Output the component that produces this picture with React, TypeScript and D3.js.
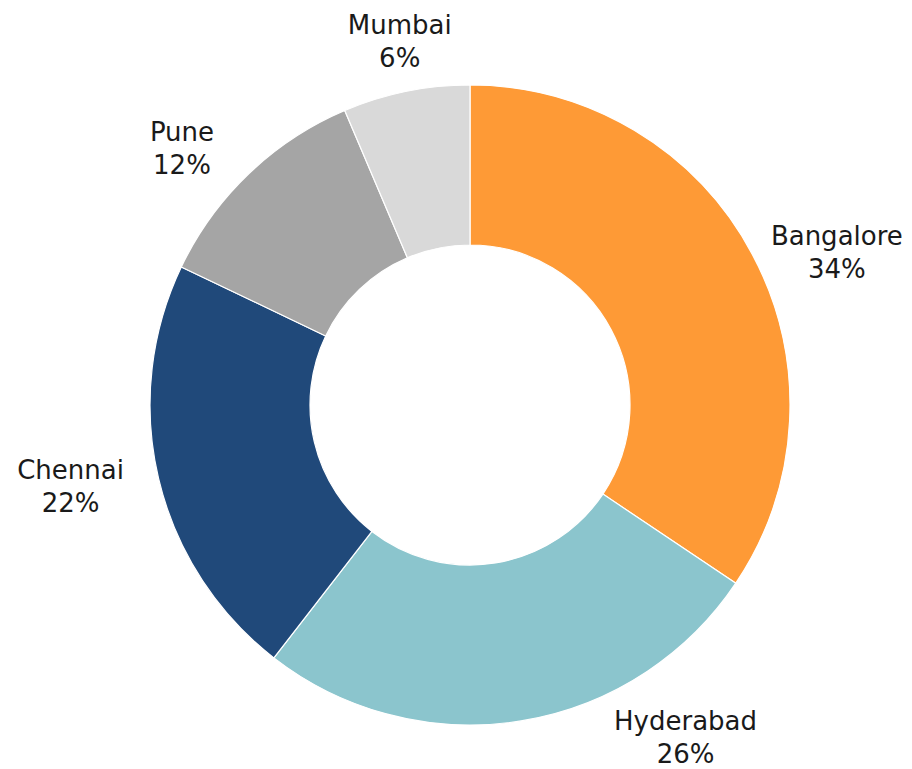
import React from "react";
import * as d3 from "d3";

const cities = ["Bangalore", "Hyderabad", "Chennai", "Pune", "Mumbai"];
const shares = [34.4, 26.1, 21.6, 11.5, 6.4];
const colors = ["#FE9A36", "#8BC5CD", "#20497A", "#A5A5A5", "#D9D9D9"];
const labelNudge: [number, number][] = [
  [21, 31],
  [153, -56],
  [-18, -10],
  [-17, 25],
  [8, 19],
];

export default function App() {
  const width = 912;
  const height = 769;
  const cx = 470;
  const cy = 405;
  const outer = 320;
  const inner = 160;
  const labelR = 392;

  const pie = d3
    .pie<number>()
    .sort(null)
    .value((d) => d);
  const arcs = pie(shares);
  const arc = d3.arc<d3.PieArcDatum<number>>().innerRadius(inner).outerRadius(outer);
  const total = d3.sum(shares);
  const pct = (v: number) => `${Math.round((v / total) * 100)}%`;

  return (
    <svg
      width={width}
      height={height}
      style={{ position: "absolute", left: 0, top: 0, background: "#fff" }}
    >
      <g transform={`translate(${cx},${cy})`}>
        {arcs.map((a, i) => (
          <path key={i} d={arc(a) || ""} fill={colors[i]} stroke="#fff" strokeWidth={1.2} />
        ))}
        {arcs.map((a, i) => {
          const mid = (a.startAngle + a.endAngle) / 2;
          const x = labelR * Math.sin(mid) + labelNudge[i][0];
          const y = -labelR * Math.cos(mid) + labelNudge[i][1];
          return (
            <text
              key={"l" + i}
              textAnchor="middle"
              fontFamily="'DejaVu Sans', sans-serif"
              fontSize={26}
              fill="#1a1a1a"
            >
              <tspan x={x} y={y - 6}>
                {cities[i]}
              </tspan>
              <tspan x={x} y={y + 27}>
                {pct(shares[i])}
              </tspan>
            </text>
          );
        })}
      </g>
    </svg>
  );
}
